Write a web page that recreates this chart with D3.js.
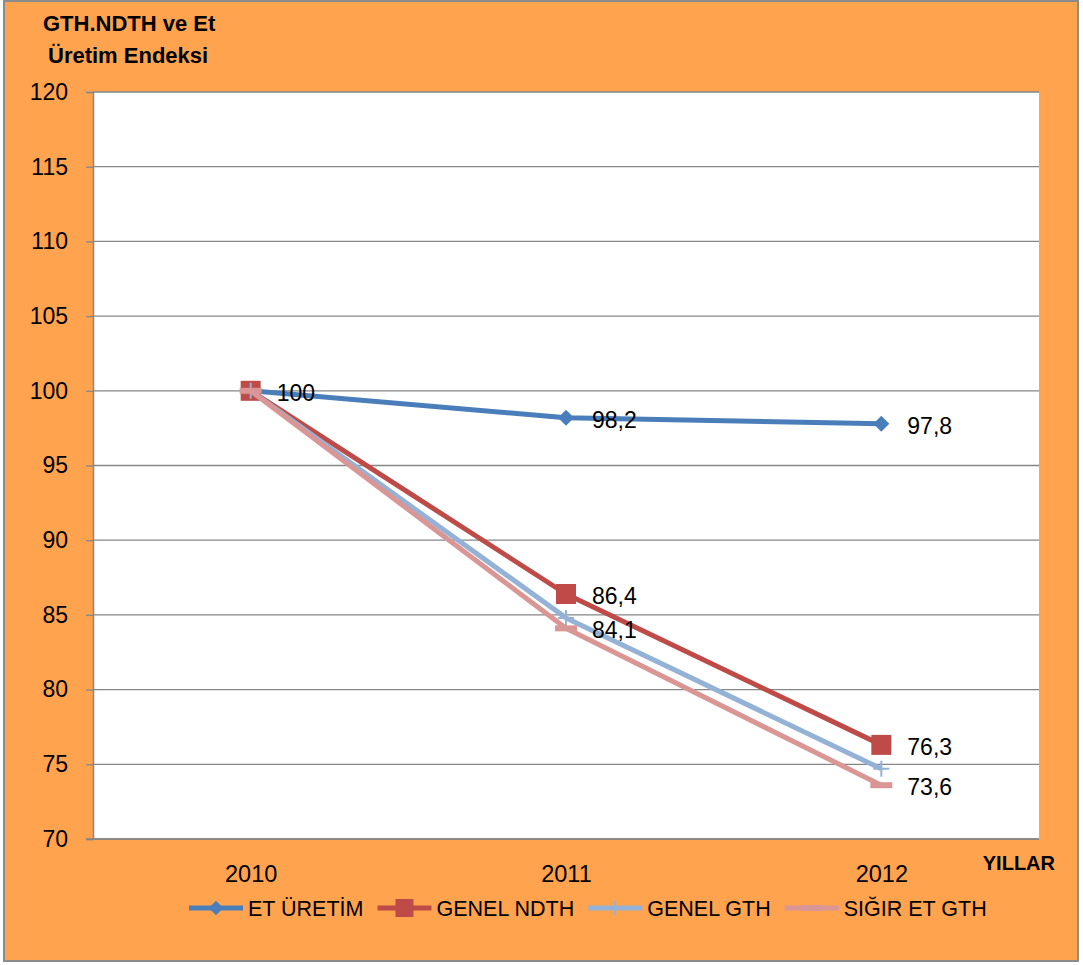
<!DOCTYPE html>
<html>
<head>
<meta charset="utf-8">
<script src="https://cdn.jsdelivr.net/npm/d3@7"></script>
<style>
  html, body { margin: 0; padding: 0; background: #ffffff; }
  svg { display: block; }
  text { font-family: "Liberation Sans", Arial, sans-serif; fill: #000; }
</style>
</head>
<body>
<svg id="chart" width="1083" height="965"></svg>
<script>
// ---- data ----
const years = ["2010", "2011", "2012"];
const seriesNames = ["ET ÜRETİM", "GENEL NDTH", "GENEL GTH", "SIĞIR ET GTH"];
const etUretim   = [100, 98.2, 97.8];
const genelNdth  = [100, 86.4, 76.3];
const genelGth   = [100, 84.8, 74.7];
const sigirEtGth = [100, 84.1, 73.6];
const yTicks = [70, 75, 80, 85, 90, 95, 100, 105, 110, 115, 120];
const titleLines = ["GTH.NDTH ve Et", "Üretim Endeksi"];
const xAxisTitle = "YILLAR";
// which points carry data labels (index per series)
const labelIdx = [[0, 1, 2], [1, 2], [], [1, 2]];

// ---- styles ----
const colors = ["#4A7EBB", "#BE4B48", "#94B2D6", "#D99694"];
const markers = ["diamond", "square", "plus", "dash"];
const seriesValues = [etUretim, genelNdth, genelGth, sigirEtGth];

const svg = d3.select("#chart");
const W = 1083, H = 965;
const plot = { left: 93, right: 1039, top: 92, bottom: 839 };

// background + frame
svg.append("rect").attr("x", 0).attr("y", 0).attr("width", W).attr("height", H).attr("fill", "#ffffff");
svg.append("rect").attr("x", 4).attr("y", 1).attr("width", 1074).attr("height", 960)
  .attr("fill", "#FFA34F").attr("stroke", "#8C8C8C").attr("stroke-width", 2);
svg.append("rect").attr("x", plot.left).attr("y", plot.top)
  .attr("width", plot.right - plot.left).attr("height", plot.bottom - plot.top).attr("fill", "#ffffff");

const x = d3.scalePoint().domain(years).range([plot.left, plot.right]).padding(0.5);
const y = d3.scaleLinear().domain([70, 120]).range([plot.bottom, plot.top]);

// gridlines
svg.append("g").selectAll("line").data(yTicks).join("line")
  .attr("x1", plot.left).attr("x2", plot.right)
  .attr("y1", d => y(d)).attr("y2", d => y(d))
  .attr("stroke", "#868686").attr("stroke-width", 1.3);

// y axis
const yAxis = svg.append("g").attr("transform", `translate(${plot.left},0)`)
  .call(d3.axisLeft(y).tickValues(yTicks).tickSize(7).tickPadding(18).tickFormat(d3.format("d")));
yAxis.select(".domain").attr("stroke", "#868686").attr("stroke-width", 1.5);
yAxis.selectAll(".tick line").attr("stroke", "#868686").attr("stroke-width", 1.3);
yAxis.selectAll(".tick text").attr("font-size", 23).attr("font-family", "Liberation Sans, Arial, sans-serif")
  .attr("fill", "#000");

// x axis
const xAxis = svg.append("g").attr("transform", `translate(0,${plot.bottom})`)
  .call(d3.axisBottom(x).tickSize(0).tickPadding(0));
xAxis.select(".domain").attr("stroke", "#868686").attr("stroke-width", 1.5)
  .attr("d", `M${plot.left - 7},0H${plot.right}`);
xAxis.selectAll(".tick text").attr("font-size", 23.5).attr("font-family", "Liberation Sans, Arial, sans-serif")
  .attr("fill", "#000").attr("dy", null).attr("y", 43);

// titles
svg.append("text").attr("x", 43).attr("y", 31).attr("font-size", 22).attr("font-weight", "bold").text(titleLines[0]);
svg.append("text").attr("x", 48).attr("y", 63).attr("font-size", 22).attr("font-weight", "bold").text(titleLines[1]);
svg.append("text").attr("x", 1055).attr("y", 870).attr("font-size", 20).attr("font-weight", "bold")
  .attr("text-anchor", "end").text(xAxisTitle);

// marker drawing helper
function drawMarker(g, type, cx, cy, color, scale) {
  const s = scale || 1;
  if (type === "diamond") {
    const r = 8 * s;
    g.append("path").attr("d", `M${cx},${cy - r}L${cx + r},${cy}L${cx},${cy + r}L${cx - r},${cy}Z`).attr("fill", color);
  } else if (type === "square") {
    const r = 10 * s;
    g.append("rect").attr("x", cx - r).attr("y", cy - r).attr("width", 2 * r).attr("height", 2 * r).attr("fill", color);
  } else if (type === "plus") {
    const r = 8 * s;
    g.append("path").attr("d", `M${cx - r},${cy}H${cx + r}M${cx},${cy - r}V${cy + r}`)
      .attr("stroke", color).attr("stroke-width", 2).attr("fill", "none");
  } else if (type === "dash") {
    g.append("rect").attr("x", cx - 11).attr("y", cy - 3).attr("width", 22).attr("height", 6).attr("fill", color);
  }
}

// series lines
const line = d3.line().x((d, i) => x(years[i])).y(d => y(d));
seriesValues.forEach((vals, si) => {
  const g = svg.append("g");
  g.append("path").datum(vals).attr("d", line).attr("fill", "none")
    .attr("stroke", colors[si]).attr("stroke-width", 5).attr("stroke-linejoin", "round");
  vals.forEach((v, i) => drawMarker(g, markers[si], x(years[i]), y(v), colors[si]));
});

// data labels
const fmt = v => (Number.isInteger(v) ? String(v) : d3.format(".1f")(v).replace(".", ","));
seriesValues.forEach((vals, si) => {
  labelIdx[si].forEach(i => {
    svg.append("text").attr("x", x(years[i]) + 26).attr("y", y(vals[i]) + 2)
      .attr("dy", "0.35em").attr("font-size", 23).text(fmt(vals[i]));
  });
});

// legend
const lg = svg.append("g");
let lx = 189;
const ly = 908;
seriesNames.forEach((name, si) => {
  lg.append("line").attr("x1", lx).attr("x2", lx + 54).attr("y1", ly).attr("y2", ly)
    .attr("stroke", colors[si]).attr("stroke-width", 5);
  drawMarker(lg, markers[si], lx + 27, ly, colors[si], 0.9);
  const t = lg.append("text").attr("x", lx + 59).attr("y", ly).attr("dy", "0.35em")
    .attr("font-size", 21.5).text(name);
  lx = lx + 59 + t.node().getComputedTextLength() + 14;
});
</script>
</body>
</html>
